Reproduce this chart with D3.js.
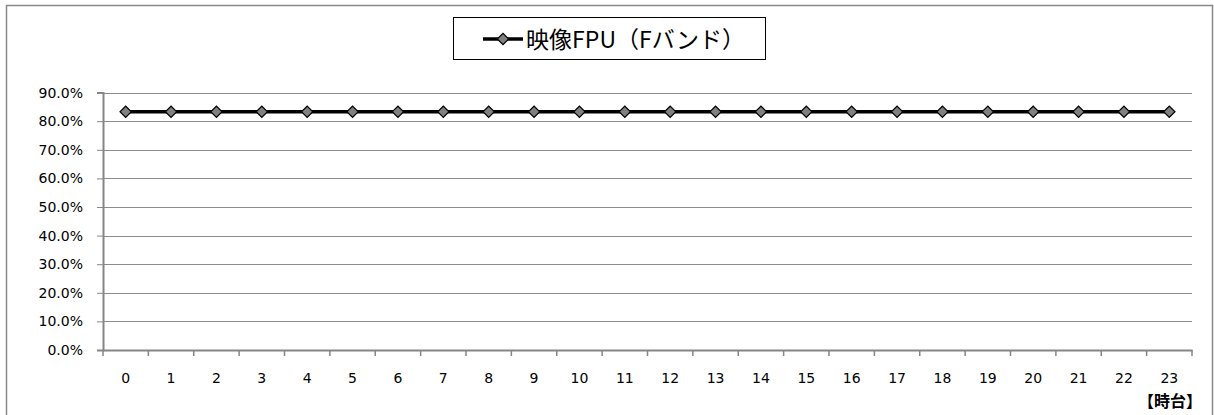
<!DOCTYPE html>
<html><head><meta charset="utf-8">
<script src="https://cdn.jsdelivr.net/npm/d3@7"></script>
<style>body{margin:0;background:#fff}svg{display:block}</style>
</head><body>
<script>
const categories = ["0","1","2","3","4","5","6","7","8","9","10","11","12","13","14","15","16","17","18","19","20","21","22","23"];
const seriesValues = [0.833,0.833,0.833,0.833,0.833,0.833,0.833,0.833,0.833,0.833,0.833,0.833,0.833,0.833,0.833,0.833,0.833,0.833,0.833,0.833,0.833,0.833,0.833,0.833];
const yTicks = [0,0.1,0.2,0.3,0.4,0.5,0.6,0.7,0.8,0.9];
const seriesName = "映像FPU（Fバンド）";
const xAxisTitle = "【時台】";

const W = 1214, H = 415;
const svg = d3.select("body").append("svg").attr("width", W).attr("height", H);
const font = "'DejaVu Sans','Noto Sans CJK JP',sans-serif";
const cjk = "'Noto Sans CJK JP',sans-serif";

// outer border
svg.append("rect").attr("x",6.5).attr("y",5.5).attr("width",1206).attr("height",420)
  .attr("fill","none").attr("stroke","#898989").attr("stroke-width",1.5);

const L = 103, R = 1192, B = 350;
const x = d3.scaleBand().domain(categories).range([L,R]);
const y = d3.scaleLinear().domain([0,0.9]).range([B, B - 9*28.6]);

// gridlines
svg.append("g").selectAll("line").data(yTicks.filter(d=>d>0)).join("line")
  .attr("x1",L).attr("x2",R).attr("y1",d=>Math.round(y(d))+0.5).attr("y2",d=>Math.round(y(d))+0.5)
  .attr("stroke","#8c8c8c").attr("stroke-width",1);

// y axis
const yAxis = d3.axisLeft(y).tickValues(yTicks).tickFormat(d3.format(".1%")).tickSize(6).tickPadding(14);
const gy = svg.append("g").attr("transform",`translate(${L},0)`).call(yAxis);
gy.select(".domain").attr("stroke","#868686").attr("stroke-width",2);
gy.selectAll(".tick line").attr("stroke","#868686").attr("stroke-width",1);
gy.selectAll("text").attr("font-family",font).attr("font-size",14).attr("fill","#000");

// x axis
const xAxis = d3.axisBottom(x).tickSize(0).tickPadding(23);
const gx = svg.append("g").attr("transform",`translate(0,${B})`).call(xAxis);
gx.select(".domain").attr("stroke","#868686").attr("stroke-width",2);
gx.selectAll("text").attr("font-family",font).attr("font-size",14).attr("fill","#000");
// category boundary ticks
const bounds = categories.map(c=>x(c)).concat([R]);
svg.append("g").selectAll("line").data(bounds).join("line")
  .attr("x1",d=>d).attr("x2",d=>d).attr("y1",B).attr("y2",B+6)
  .attr("stroke","#868686").attr("stroke-width",1.5);

// line
const cx = d=>x(d)+x.bandwidth()/2;
svg.append("path").datum(categories.map((c,i)=>[cx(c), y(seriesValues[i])]))
  .attr("d",d3.line()).attr("fill","none").attr("stroke","#000").attr("stroke-width",3.5);
svg.append("g").selectAll("path").data(categories).join("path")
  .attr("transform",(c,i)=>`translate(${cx(c)},${y(seriesValues[i])}) rotate(45)`)
  .attr("d",d3.symbol().type(d3.symbolSquare).size(64))
  .attr("fill","#808080").attr("stroke","#000").attr("stroke-width",1.2);

// x axis title
svg.append("text").attr("x",1202).attr("y",407).attr("text-anchor","end")
  .attr("font-family",cjk).attr("font-weight","bold").attr("font-size",16)
  .text(xAxisTitle);

// legend
const lg = svg.append("g");
lg.append("rect").attr("x",453.5).attr("y",17.5).attr("width",312).attr("height",42)
  .attr("fill","#fff").attr("stroke","#000").attr("stroke-width",1);
lg.append("line").attr("x1",483).attr("x2",523).attr("y1",39).attr("y2",39).attr("stroke","#000").attr("stroke-width",3.5);
lg.append("path").attr("transform","translate(503,39) rotate(45)")
  .attr("d",d3.symbol().type(d3.symbolSquare).size(64)).attr("fill","#808080").attr("stroke","#000").attr("stroke-width",1.2);
lg.append("text").attr("x",526).attr("y",48).attr("font-family",cjk)
  .attr("font-size",23).attr("textLength",219).attr("lengthAdjust","spacing")
  .attr("fill","#000").text(seriesName);
</script>
</body></html>
